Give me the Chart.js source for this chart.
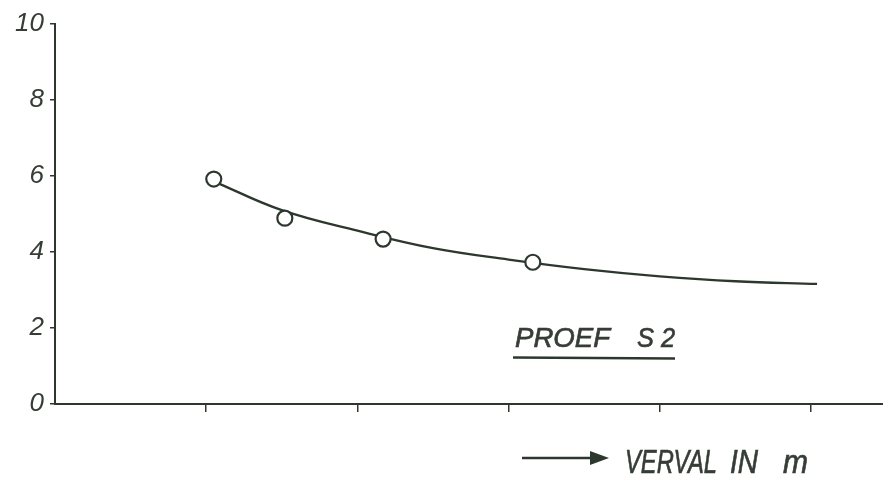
<!DOCTYPE html>
<html>
<head>
<meta charset="utf-8">
<script src="https://cdn.jsdelivr.net/npm/chart.js@4.4.1/dist/chart.umd.min.js"></script>
<style>
  html, body { margin: 0; background: #fff; }
  #wrap { width: 883px; height: 479px; }
</style>
</head>
<body>
<div id="wrap"><canvas id="proef"></canvas></div>
<script>
// ---- Proef S2: measured points and the fitted curve ---- //
const measuredX = [1.05, 1.52, 2.17, 3.16];
const measuredY = [5.92, 4.89, 4.34, 3.73];

const curveX = [1.05, 1.5, 2.0, 2.5, 3.0, 3.5, 4.0, 4.5, 5.04];
const curveY = [5.86, 5.1, 4.56, 4.1, 3.8, 3.55, 3.36, 3.23, 3.16];

const yTicks = [0, 2, 4, 6, 8, 10];
const xTicks = [1, 2, 3, 4, 5];

const INK = "#2c382d";
const TEXT = "#363d36";
const FONT = '"Liberation Sans", Arial, sans-serif';

const toPoints = (xs, ys) => xs.map((x, i) => ({ x, y: ys[i] }));

// --- Text drawn on the canvas (label + axis caption) ---
function fitText(ctx, text, x, baseline, size, width) {
  ctx.save();
  ctx.font = `italic ${size}px ${FONT}`;
  const w = ctx.measureText(text).width;
  ctx.translate(x, baseline);
  ctx.scale(width / w, 1);
  ctx.lineWidth = 0.7;
  ctx.strokeStyle = ctx.fillStyle;
  ctx.fillText(text, 0, 0);
  ctx.strokeText(text, 0, 0);
  ctx.restore();
}

const captions = {
  id: "captions",
  afterDraw(chart) {
    const ctx = chart.ctx;
    ctx.save();
    ctx.fillStyle = TEXT;
    ctx.textBaseline = "alphabetic";

    // series label, underlined
    fitText(ctx, "PROEF", 515, 347, 28, 95);
    fitText(ctx, "S 2", 637, 347, 28, 38);
    ctx.strokeStyle = INK;
    ctx.lineWidth = 2.5;
    ctx.beginPath();
    ctx.moveTo(513, 357.5);
    ctx.lineTo(675, 358.5);
    ctx.stroke();

    // arrow + axis caption
    ctx.lineWidth = 2.5;
    ctx.beginPath();
    ctx.moveTo(522, 458);
    ctx.lineTo(595, 458);
    ctx.stroke();
    ctx.fillStyle = INK;
    ctx.beginPath();
    ctx.moveTo(609, 458);
    ctx.lineTo(590, 451);
    ctx.lineTo(590, 465);
    ctx.closePath();
    ctx.fill();

    ctx.fillStyle = TEXT;
    fitText(ctx, "VERVAL", 625, 473, 34, 92);
    fitText(ctx, "IN", 730, 473, 34, 28);
    fitText(ctx, "m", 783, 473, 34, 25);
    ctx.restore();
  }
};

new Chart(document.getElementById("proef"), {
  type: "scatter",
  data: {
    datasets: [
      {
        label: "meetpunten",
        data: toPoints(measuredX, measuredY),
        showLine: false,
        pointRadius: 7.5,
        pointBorderWidth: 2.2,
        pointBackgroundColor: "#fff",
        pointBorderColor: INK,
        order: 0
      },
      {
        label: "curve",
        data: toPoints(curveX, curveY),
        showLine: true,
        tension: 0.4,
        borderColor: INK,
        borderWidth: 2.3,
        pointRadius: 0,
        order: 1
      }
    ]
  },
  options: {
    responsive: true,
    maintainAspectRatio: false,
    animation: false,
    layout: { autoPadding: false, padding: { top: 24, right: 0, left: 0, bottom: 0 } },
    plugins: { legend: { display: false }, tooltip: { enabled: false } },
    scales: {
      x: {
        type: "linear",
        min: 0,
        max: 5.476,
        afterBuildTicks: s => { s.ticks = xTicks.map(v => ({ value: v })); },
        afterFit: s => { s.height = 75; },
        ticks: { display: false },
        grid: { drawOnChartArea: false, drawTicks: true, tickLength: 8, color: INK, lineWidth: 1.5 },
        border: { color: INK, width: 2 }
      },
      y: {
        min: 0,
        max: 10,
        afterBuildTicks: s => { s.ticks = yTicks.map(v => ({ value: v })); },
        afterFit: s => { s.width = 55; },
        ticks: {
          color: TEXT,
          padding: 6,
          font: { family: FONT, size: 26, style: "italic" }
        },
        grid: { drawOnChartArea: false, drawTicks: true, tickLength: 5, color: INK, lineWidth: 1.5 },
        border: { color: INK, width: 2 }
      }
    }
  },
  plugins: [captions]
});
</script>
</body>
</html>
